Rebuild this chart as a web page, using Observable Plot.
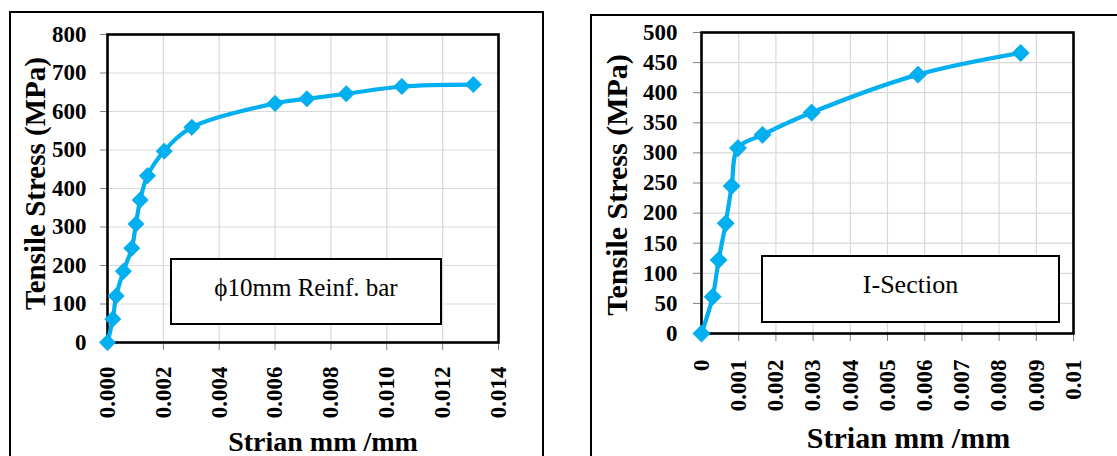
<!DOCTYPE html>
<html>
<head>
<meta charset="utf-8">
<script src="https://cdn.jsdelivr.net/npm/d3@7"></script>
<script src="https://cdn.jsdelivr.net/npm/@observablehq/plot@0.6"></script>
<style>
  html, body { margin: 0; padding: 0; background: #fff; overflow: hidden; }
  body { width: 1117px; height: 456px; position: relative; font-family: "Liberation Serif", "Times New Roman", serif; }
  .chart { position: absolute; top: 0; }
  .outer { position: absolute; border: 2.5px solid #000; box-sizing: border-box; }
  .tag { position: absolute; border: 2px solid #000; background: #fff; box-sizing: border-box;
         display: flex; align-items: center; justify-content: center; color: #000;
         font-family: "Liberation Serif", "Times New Roman", serif; }
</style>
</head>
<body>
<div class="outer" style="left:9px; top:11px; width:535px; height:520px;"></div>
<div class="outer" style="left:590px; top:14px; width:600px; height:520px;"></div>
<div id="left" class="chart" style="left:0px;"></div>
<div id="right" class="chart" style="left:556px;"></div>
<div class="tag" style="left:170px; top:258px; width:272px; height:67px; font-size:25px; padding-bottom:8px;">ϕ10mm Reinf. bar</div>
<div class="tag" style="left:761px; top:255px; width:299px; height:68px; font-size:26px; padding-bottom:8px;">I-Section</div>
<script>
// ---- Data: φ10mm reinforcement bar ----
const barStrain = [0, 0.00019, 0.00031, 0.00057, 0.00087, 0.00102, 0.00117, 0.00143, 0.00203, 0.00302, 0.0060, 0.00714, 0.00855, 0.01054, 0.0131];
const barStress = [0, 61, 121, 185, 245, 308, 370, 433, 497, 559, 621, 633, 646, 665, 670];
const barXTicks = [0, 0.002, 0.004, 0.006, 0.008, 0.010, 0.012, 0.014];
const barXTickLabels = ["0.000", "0.002", "0.004", "0.006", "0.008", "0.010", "0.012", "0.014"];
const barYTicks = [0, 100, 200, 300, 400, 500, 600, 700, 800];

// ---- Data: I-Section ----
const secStrain = [0, 0.0003, 0.00046, 0.00065, 0.00081, 0.00098, 0.00164, 0.00296, 0.00582, 0.00858];
const secStress = [0, 61, 122, 183, 245, 308, 330, 367, 430, 466];
const secXTicks = [0, 0.001, 0.002, 0.003, 0.004, 0.005, 0.006, 0.007, 0.008, 0.009, 0.01];
const secXTickLabels = ["0", "0.001", "0.002", "0.003", "0.004", "0.005", "0.006", "0.007", "0.008", "0.009", "0.01"];
const secYTicks = [0, 50, 100, 150, 200, 250, 300, 350, 400, 450, 500];

const yTitle = "Tensile Stress (MPa)";
const xTitle = "Strian mm /mm";
const BLUE = "#00B0F0";
const FONT = "'Liberation Serif', 'Times New Roman', serif";
const diamond = d3.symbolDiamond2 || "diamond2";

function chart(o) {
  const data = o.strain.map((s, i) => ({strain: s, stress: o.stress[i]}));
  return Plot.plot({
    width: o.width, height: 456,
    marginLeft: o.ml, marginRight: o.mr, marginTop: o.mt, marginBottom: o.mb,
    style: {fontFamily: FONT, fontSize: o.tickFont + "px", fontWeight: "bold", color: "#000", background: "transparent", overflow: "visible"},
    x: {domain: o.xDomain},
    y: {domain: o.yDomain},
    marks: [
      Plot.gridX(o.xTicks, {stroke: "#d9d9d9", strokeOpacity: 1, strokeWidth: 1.2}),
      Plot.gridY(o.yTicks, {stroke: "#d9d9d9", strokeOpacity: 1, strokeWidth: 1.2}),
      Plot.axisX(o.xTicks, {tickRotate: -90, tickSize: 8, tickPadding: o.xPad, stroke: "#808080",
        fill: "#000", tickFormat: (d, i) => o.xLabels[i], label: null}),
      Plot.axisY(o.yTicks, {tickSize: o.ySize, tickPadding: o.yPad, stroke: "#808080", fill: "#000", label: null}),
      Plot.frame({stroke: "#000", strokeWidth: 2.6}),
      Plot.line(data, {x: "strain", y: "stress", stroke: BLUE, strokeWidth: 4.2, curve: o.curve}),
      Plot.dot(data, {x: "strain", y: "stress", symbol: diamond, r: o.r, fill: BLUE, stroke: "#14a3dc", strokeWidth: 0.6}),
      Plot.text([yTitle], {frameAnchor: "left", textAnchor: "middle", rotate: -90, dx: o.ytDx, dy: o.ytDy, fontSize: o.ytFont, fontWeight: "bold", fill: "#000"}),
      Plot.text([xTitle], {frameAnchor: "bottom", textAnchor: "middle", lineAnchor: "bottom", dx: o.xtDx, dy: o.xtDy, fontSize: o.xtFont, fontWeight: "bold", fill: "#000"})
    ]
  });
}

document.getElementById("left").append(chart({
  strain: barStrain, stress: barStress, width: 556,
  ml: 107, mr: 58, mt: 34, mb: 114,
  xDomain: [0, 0.014], yDomain: [0, 800],
  xTicks: barXTicks, xLabels: barXTickLabels, yTicks: barYTicks,
  tickFont: 23, xPad: 16, ySize: 7, yPad: 14,
  curve: "catmull-rom", r: 7.4,
  ytDx: -72, ytDy: -5, ytFont: 29,
  xtDx: 20, xtDy: 108, xtFont: 28
}));

document.getElementById("right").append(chart({
  strain: secStrain, stress: secStress, width: 561,
  ml: 145, mr: 44, mt: 32, mb: 123,
  xDomain: [0, 0.01], yDomain: [0, 500],
  xTicks: secXTicks, xLabels: secXTickLabels, yTicks: secYTicks,
  tickFont: 23, xPad: 18, ySize: 8, yPad: 16,
  curve: "catmull-rom", r: 7.8,
  ytDx: -84, ytDy: 2, ytFont: 30,
  xtDx: 21, xtDy: 114, xtFont: 30
}));
</script>
</body>
</html>
